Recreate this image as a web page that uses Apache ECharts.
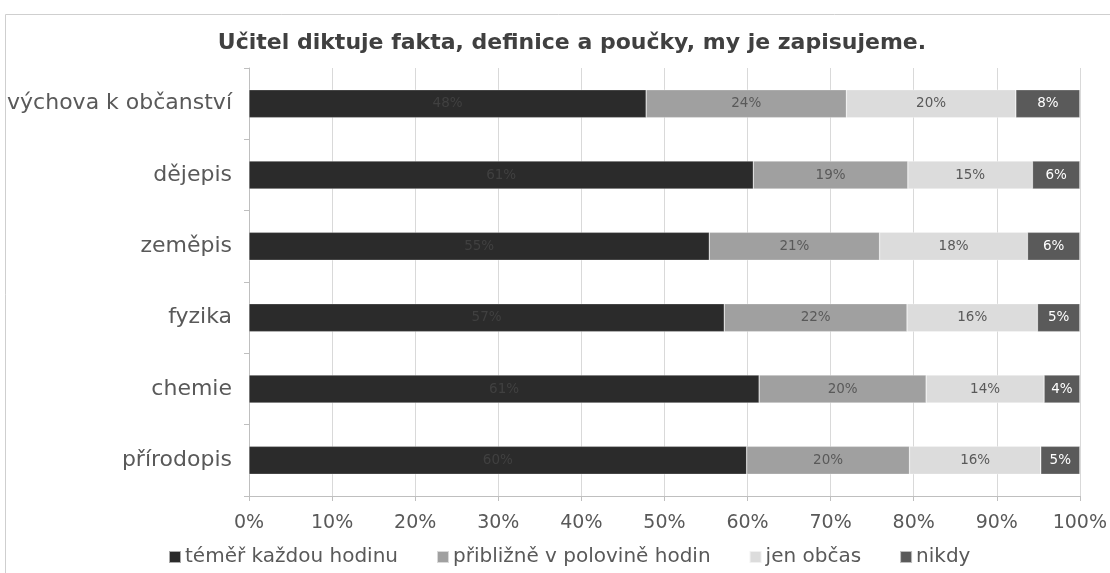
<!DOCTYPE html>
<html><head><meta charset="utf-8">
<script src="https://cdn.jsdelivr.net/npm/echarts@6/dist/echarts.min.js"></script>
<style>html,body{margin:0;padding:0;background:#fff}#c{width:1110px;height:573px}</style>
</head><body><div id="c"></div>
<script>
const title = 'Učitel diktuje fakta, definice a poučky, my je zapisujeme.';
const categories = ['výchova k občanství','dějepis','zeměpis','fyzika','chemie','přírodopis'];
const seriesNames = ['téměř každou hodinu','přibližně v polovině hodin','jen občas','nikdy'];
const temerKazdou = [47.8, 60.7, 55.4, 57.2, 61.4, 59.9];
const vPolovine = [24.1, 18.6, 20.5, 22.0, 20.1, 19.6];
const jenObcas = [20.4, 15.0, 17.8, 15.7, 14.2, 15.8];
const nikdy = [7.7, 5.7, 6.3, 5.1, 4.3, 4.7];
const xTicks = [0,10,20,30,40,50,60,70,80,90,100];

const colors = ['#2b2b2b','#a0a0a0','#dcdcdc','#5a5a5a'];
const labelColors = ['#404040','#595959','#595959','#ffffff'];
const values = [temerKazdou, vPolovine, jenObcas, nikdy];
const FONT = 'DejaVu Sans';

const chart = echarts.init(document.getElementById('c'), null, {renderer:'canvas'});
chart.setOption({
  animation:false,
  textStyle:{fontFamily:FONT},
  graphic:[
    {type:'rect', shape:{x:5.5,y:14.5,width:1200,height:700}, style:{fill:'none',stroke:'#cfcfcf',lineWidth:1}, z:-10},
    {type:'text', x:572, y:43, style:{text:title, font:'bold 22px "'+FONT+'"', fill:'#404040', align:'center', verticalAlign:'middle'}}
  ],
  grid:{left:249,right:24,top:68,bottom:77,containLabel:false},
  legend:{
    data:seriesNames, left:163, top:542, icon:'rect', itemWidth:12, itemHeight:12, itemGap:38,
    textStyle:{color:'#595959',fontSize:20,fontFamily:FONT, padding:[0,0,0,-1]}
  },
  xAxis:{
    type:'value', min:0, max:100, interval:10,
    axisLine:{show:true,lineStyle:{color:'#bfbfbf'}},
    axisTick:{show:true,length:5,lineStyle:{color:'#bfbfbf'}},
    splitLine:{show:true,lineStyle:{color:'#d9d9d9'}},
    axisLabel:{color:'#595959',fontSize:19,margin:18,formatter:v=>xTicks.includes(v)?v+'%':''}
  },
  yAxis:{
    type:'category', data:categories, inverse:true,
    axisLine:{show:true,lineStyle:{color:'#bfbfbf'}},
    axisTick:{show:true,length:5,lineStyle:{color:'#bfbfbf'}},
    axisLabel:{color:'#595959',fontSize:22,margin:17}
  },
  series: seriesNames.map((n,i)=>({
    name:n, type:'bar', stack:'total', data:values[i], barWidth:28,
    itemStyle:{color:colors[i], borderColor:'rgba(255,255,255,0.6)', borderWidth:0.5},
    label:{show:true, position:'inside', color:labelColors[i], fontSize:13.5, fontFamily:FONT,
      formatter:p=>Math.round(p.value)+'%'}
  }))
});
</script></body></html>
